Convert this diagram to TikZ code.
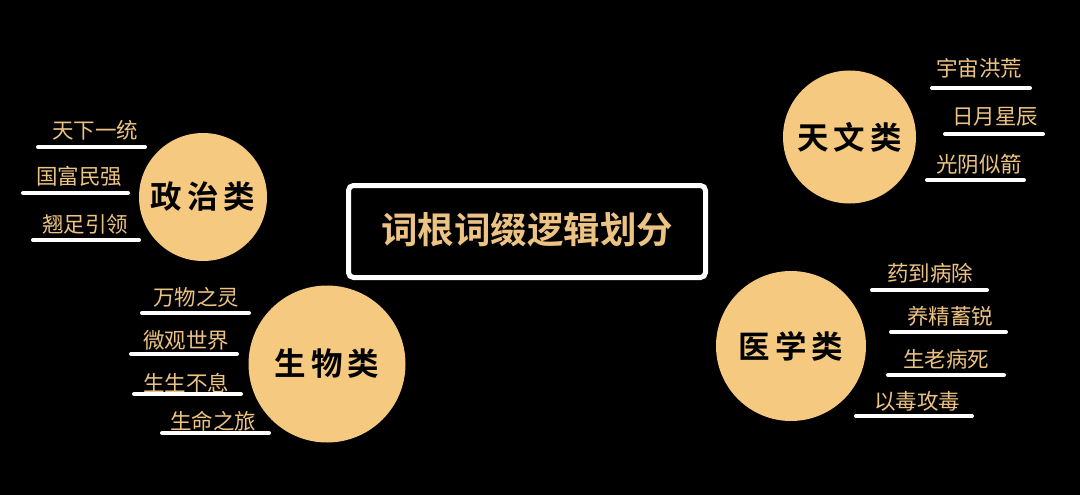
\documentclass[tikz,border=0pt]{standalone}
\usepackage{fontspec}
\newfontfamily\cjk{Noto Sans CJK SC}[BoldFont={Noto Sans CJK SC Bold}]
\definecolor{circfill}{HTML}{F5C97F}
\definecolor{gold}{HTML}{EDC383}
\newcommand{\catgap}{\hspace{5pt}}
\tikzset{
  cat/.style={circle, fill=circfill, draw=none, inner sep=0pt, text=black, font=\cjk\bfseries\fontsize{31.5}{32}\selectfont},
  leaf/.style={text=gold, inner sep=0pt, anchor=west, font=\cjk\fontsize{21.5}{22}\selectfont},
  uline/.style={draw=white, line width=4pt, line cap=round},
  titlebox/.style={draw=white, line width=5pt, rounded corners=5pt, fill=black}
}
\begin{document}
\begin{tikzpicture}[x=1pt,y=-1pt]
\fill[black] (0,0) rectangle (1080,495);
\useasboundingbox (0,0) rectangle (1080,495);

% title box
\draw[titlebox] (348.5,185.5) rectangle (705.5,277.5);
\node[text=gold, font=\cjk\bfseries\fontsize{36.5}{37}\selectfont, inner sep=0pt] (title) at (527,230) {词根词缀逻辑划分};

% circles
\node[cat, minimum size=128pt] (zz) at (203,197) {政\catgap 治\catgap 类};
\node[cat, minimum size=157pt] (sw) at (327,364) {生\catgap 物\catgap 类};
\node[cat, minimum size=133pt] (tw) at (849.5,137) {天\catgap 文\catgap 类};
\node[cat, minimum size=150pt] (yx) at (791,346) {医\catgap 学\catgap 类};

% leaves: politics
\node[leaf] (l1) at (52,130) {天下一统};
\node[leaf] (l2) at (36,176) {国富民强};
\node[leaf] (l3) at (42,224) {翘足引领};
\coordinate (a1) at (38,147); \coordinate (b1) at (145,147);
\coordinate (a2) at (23,193); \coordinate (b2) at (128,193);
\coordinate (a3) at (33,240); \coordinate (b3) at (139,240);
\draw[uline] (a1) -- (b1);
\draw[uline] (a2) -- (b2);
\draw[uline] (a3) -- (b3);

% leaves: biology
\node[leaf] (l4) at (153,297) {万物之灵};
\node[leaf] (l5) at (143,340) {微观世界};
\node[leaf] (l6) at (143,383) {生生不息};
\node[leaf] (l7) at (170,421) {生命之旅};
\coordinate (a4) at (142,313); \coordinate (b4) at (249,313);
\coordinate (a5) at (131,354); \coordinate (b5) at (237,354);
\coordinate (a6) at (134,394); \coordinate (b6) at (241,394);
\coordinate (a7) at (162,433); \coordinate (b7) at (269,433);
\draw[uline] (a4) -- (b4);
\draw[uline] (a5) -- (b5);
\draw[uline] (a6) -- (b6);
\draw[uline] (a7) -- (b7);

% leaves: astronomy
\node[leaf] (l8) at (936,68) {宇宙洪荒};
\node[leaf] (l9) at (952,117) {日月星辰};
\node[leaf] (l10) at (936,164) {光阴似箭};
\coordinate (a8) at (932,88); \coordinate (b8) at (1030,88);
\coordinate (a9) at (945,134); \coordinate (b9) at (1043,134);
\coordinate (a10) at (927,180); \coordinate (b10) at (1024,180);
\draw[uline] (a8) -- (b8);
\draw[uline] (a9) -- (b9);
\draw[uline] (a10) -- (b10);

% leaves: medicine
\node[leaf] (l11) at (887,273) {药到病除};
\node[leaf] (l12) at (907,316) {养精蓄锐};
\node[leaf] (l13) at (903,359) {生老病死};
\node[leaf] (l14) at (874,401) {以毒攻毒};
\coordinate (a11) at (872,290); \coordinate (b11) at (987,290);
\coordinate (a12) at (891,332); \coordinate (b12) at (1006,332);
\coordinate (a13) at (888,375); \coordinate (b13) at (1004,375);
\coordinate (a14) at (856,416); \coordinate (b14) at (972,416);
\draw[uline] (a11) -- (b11);
\draw[uline] (a12) -- (b12);
\draw[uline] (a13) -- (b13);
\draw[uline] (a14) -- (b14);
\end{tikzpicture}
\end{document}
